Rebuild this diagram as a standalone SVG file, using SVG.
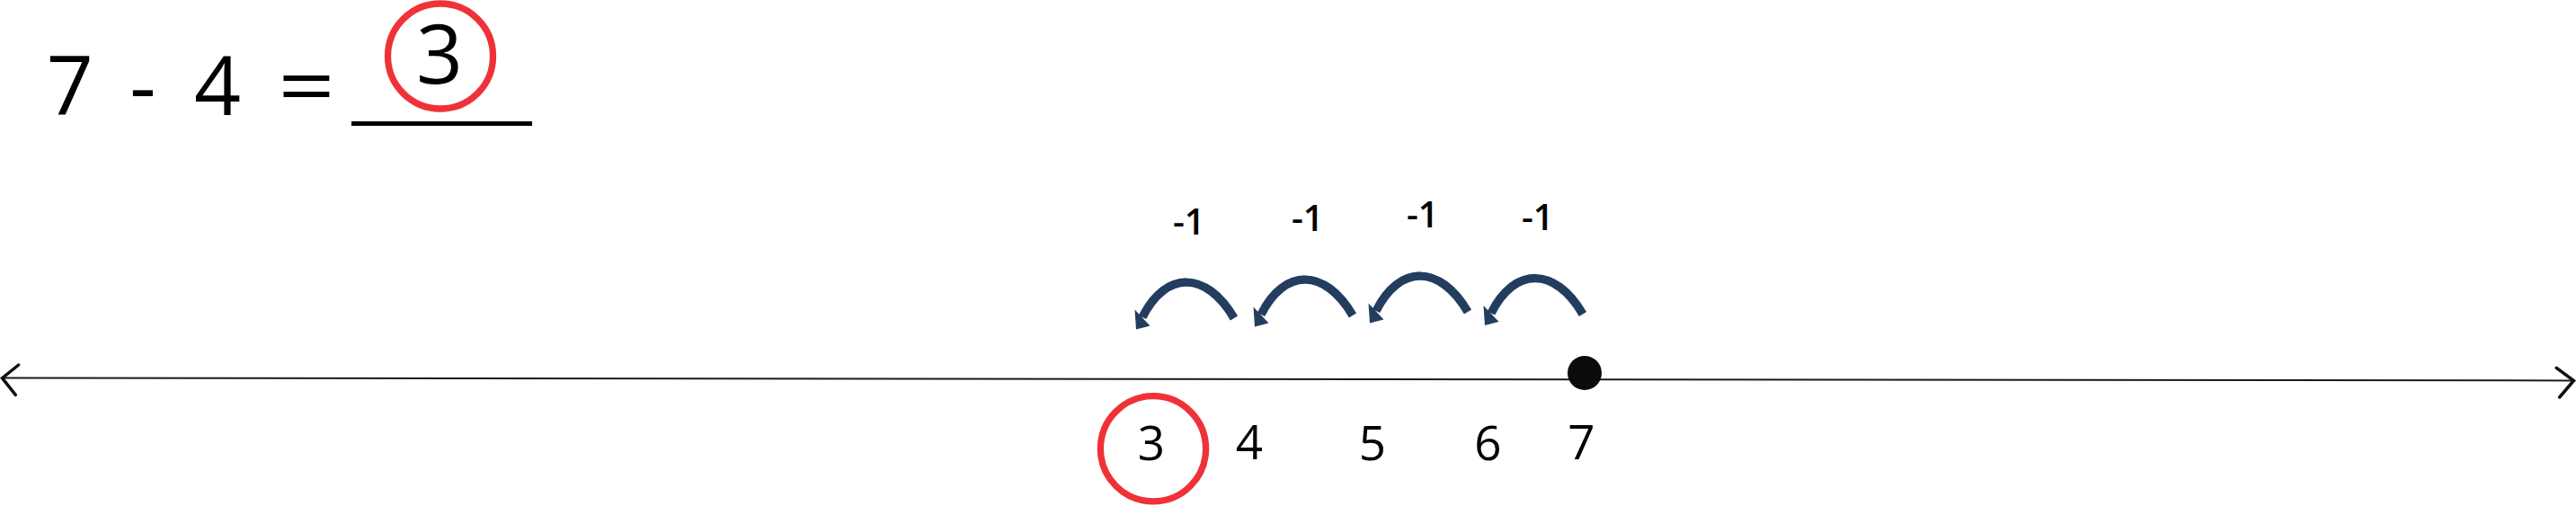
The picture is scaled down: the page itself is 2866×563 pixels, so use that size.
<svg xmlns="http://www.w3.org/2000/svg" xmlns:xlink="http://www.w3.org/1999/xlink" width="2866" height="563" viewBox="0 0 2866 563">
<style>
.eq{font-family:"Open Sans","Liberation Sans",sans-serif;fill:#000;text-anchor:middle}
.num{font-family:"Open Sans","Liberation Sans",sans-serif;fill:#000;text-anchor:middle}
.lbl{font-family:"Open Sans","Liberation Sans",sans-serif;font-weight:600;fill:#000}
.ring{fill:none;stroke:#ef3237;stroke-width:7.3}
.axis{fill:none;stroke:#1a1a1a;stroke-width:2}
.tip{fill:none;stroke:#111;stroke-width:3.5;stroke-linecap:round}
.arc{fill:none;stroke:#233d5f;stroke-width:9.5}
.head{fill:#233d5f}
</style>
<defs>
<g id="jump">
<path class="arc" d="M1373,354 C1342,301 1297,301 1271,353"/>
<polygon class="head" points="1262.5,344.5 1264,366.5 1279.5,362.5"/>
</g>
</defs>
<rect width="2866" height="563" fill="#fff"/>
<g id="equation">
<text class="eq" font-size="91" y="128"><tspan x="77.7">7</tspan><tspan x="159">-</tspan><tspan x="242">4</tspan></text>
<text class="eq" font-size="91" transform="translate(341,128) scale(1.22,1)" x="0" y="0">=</text>
<rect x="391" y="135" width="201" height="5" fill="#000"/>
</g>
<g id="answer">
<circle class="ring" cx="490" cy="62.5" r="58.5"/>
<text class="eq" font-size="91" x="489" y="93">3</text>
</g>
<g id="number-line">
<line class="axis" x1="2" y1="420.6" x2="2864" y2="423.4"/>
<path class="tip" d="M20.7,406 L2.5,420.7 L17.3,439.3"/>
<path class="tip" d="M2844.3,409.3 L2863.5,423.5 L2847.7,442"/>
</g>
<g id="start-point">
<circle cx="1763" cy="415" r="19" fill="#0b0b0c"/>
</g>
<g id="tick-3">
<circle class="ring" cx="1283" cy="499.3" r="58.6"/>
<text class="num" font-size="53" x="1281" y="512">3</text>
</g>
<g id="tick-4"><text class="num" font-size="53" x="1390" y="511">4</text></g>
<g id="tick-5"><text class="num" font-size="53" x="1527" y="512">5</text></g>
<g id="tick-6"><text class="num" font-size="53" x="1655.5" y="512">6</text></g>
<g id="tick-7"><text class="num" font-size="53" x="1759.5" y="511">7</text></g>
<g id="connectors">
<use xlink:href="#jump"/>
<use xlink:href="#jump" transform="translate(132,-3)"/>
<use xlink:href="#jump" transform="translate(260,-7)"/>
<use xlink:href="#jump" transform="translate(388,-4.5)"/>
</g>
<g id="label-1"><text class="lbl" font-size="40" x="1305" y="261">-1</text></g>
<g id="label-2"><text class="lbl" font-size="40" x="1437" y="257">-1</text></g>
<g id="label-3"><text class="lbl" font-size="40" x="1565" y="253">-1</text></g>
<g id="label-4"><text class="lbl" font-size="40" x="1693" y="256">-1</text></g>
</svg>
